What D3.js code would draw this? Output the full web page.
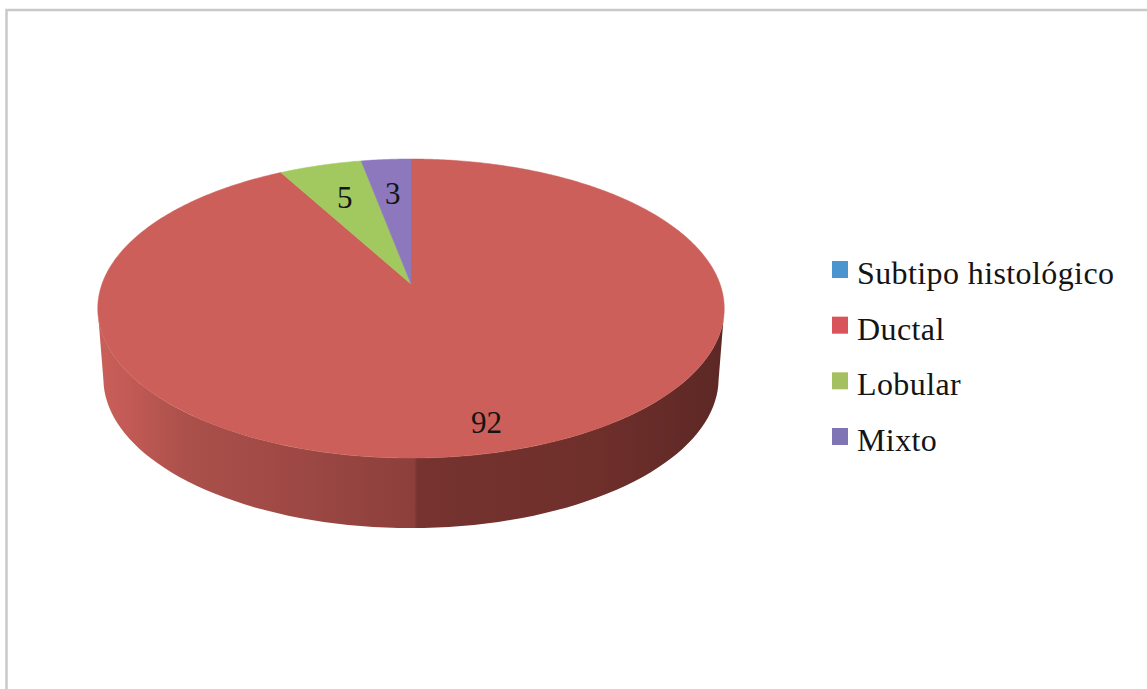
<!DOCTYPE html>
<html><head><meta charset="utf-8">
<script src="https://cdn.jsdelivr.net/npm/d3@7"></script>
<style>html,body{margin:0;padding:0;background:#fff}svg{display:block}text{font-family:"Liberation Serif",serif;fill:#141414}</style>
</head><body><svg id="c" width="1147" height="689"></svg>
<script>
const categories = ["Subtipo histológico", "Ductal", "Lobular", "Mixto"];
const values = [0, 92, 5, 3];
const colors = ["#4a94d0", "#cc5f59", "#a2c95f", "#8d78bd"];
const legendColors = ["#4a94d0", "#d9545a", "#a5c060", "#7f74b4"];
const labelRadii = [0, 0.85, 0.7, 0.7];

const W = 1147, H = 689;
const svg = d3.select("#c");
const defs = svg.append("defs");

// Tilted-disc projection: unit circle -> page
const apexX = 411, apexY = 284, spreadX = 309, spreadY = 145.5, persp = 0.164, depth = 70, baseShrink = 0.982;
const project = (theta, r = 1) => {
  const u = r * Math.sin(theta), v = r * Math.cos(theta), d = 1 + persp * v;
  return [apexX + spreadX * u / d, apexY - spreadY * v / d];
};

// Frame
svg.append("path").attr("d", `M6.5,${H}V10H${W}`).attr("fill", "none").attr("stroke", "#c9c9c9").attr("stroke-width", 2.5);

// Wall
const wallGrad = defs.append("linearGradient").attr("id", "wall").attr("gradientUnits", "userSpaceOnUse")
  .attr("x1", 98).attr("x2", 724).attr("y1", 0).attr("y2", 0);
[[0, "#c95f59"], [0.05, "#c25a55"], [0.14, "#ab504b"], [0.3, "#9f4945"], [0.505, "#8c3f3b"], [0.51, "#763330"], [0.8, "#6f2f2b"], [1, "#5c2825"]]
  .forEach(([o, c]) => wallGrad.append("stop").attr("offset", o).attr("stop-color", c));

const line = d3.line();
const rim = d3.range(0, 361, 2).map(a => a * Math.PI / 180);
const rimPts = rim.map(t => project(t));
const order = d3.range(rim.length).sort((i, j) => rimPts[i][0] - rimPts[j][0]);
const leftT = rim[order[0]], rightT = rim[order[order.length - 1]];
const near = rim.filter(t => t >= rightT && t <= leftT);
const wallPts = [
  ...near.map(t => project(t)),
  ...near.slice().reverse().map(t => {
    const p = project(t);
    return [apexX + (p[0] - apexX) * baseShrink, p[1] + depth];
  })
];
svg.append("path").attr("d", line(wallPts) + "Z").attr("fill", "url(#wall)");

// Slices
const pie = d3.pie().value(d => d).sort(null).startAngle(0).endAngle(2 * Math.PI);
const arcs = pie(values);
arcs.forEach((a, i) => {
  if (a.endAngle - a.startAngle <= 0) return;
  const n = Math.max(2, Math.ceil((a.endAngle - a.startAngle) * 90));
  const pts = [[apexX, apexY], ...d3.range(n + 1).map(k => project(a.startAngle + (a.endAngle - a.startAngle) * k / n))];
  svg.append("path").attr("d", line(pts) + "Z").attr("fill", colors[i]).attr("stroke", colors[i]).attr("stroke-width", 0.5);
});

// Value labels
arcs.forEach((a, i) => {
  if (!values[i]) return;
  const p = project((a.startAngle + a.endAngle) / 2, labelRadii[i]);
  svg.append("text").attr("x", p[0]).attr("y", p[1]).attr("dy", "0.34em").attr("text-anchor", "middle")
    .attr("font-size", 31).text(values[i]);
});

// Legend
const legendY = d3.scalePoint().domain(categories).range([284, 451]);
const lg = svg.append("g");
categories.forEach((c, i) => {
  const y = legendY(c);
  lg.append("rect").attr("x", 832).attr("y", y - 23).attr("width", 16).attr("height", 17).attr("fill", legendColors[i]);
  lg.append("text").attr("x", 857).attr("y", y).attr("font-size", 32).attr("letter-spacing", 0.4).text(c);
});
</script></body></html>
